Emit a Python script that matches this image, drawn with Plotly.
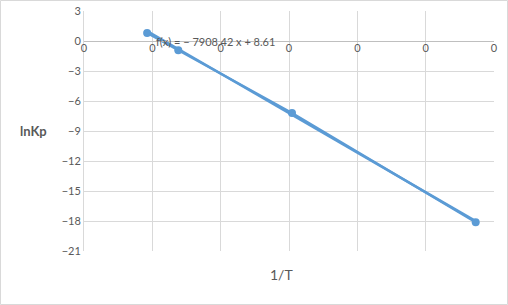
import plotly.graph_objects as go

# Data
inv_T = [0.000962, 0.00119, 0.002022, 0.003366]
ln_Kp = [0.8, -0.93, -7.2, -18.13]
slope = -7908.42
intercept = 8.61
x_ticks = [0.0005, 0.001, 0.0015, 0.002, 0.0025, 0.003, 0.0035]
y_ticks = [3, 0, -3, -6, -9, -12, -15, -18, -21]
eq_text = "f(x) = − 7908.42 x + 8.61"

W, H = 508, 305
L, R, T, B = 84, 14, 11, 54
blue = "#5b9bd5"
grey_txt = "#595959"
grid = "#d9d9d9"
font = "Lato"

trend_x = [min(inv_T), max(inv_T)]
trend_y = [slope * v + intercept for v in trend_x]

fig = go.Figure()
fig.add_trace(go.Scatter(x=trend_x, y=trend_y, mode="lines",
                         line=dict(color=blue, width=2.5), showlegend=False, hoverinfo="skip"))
fig.add_trace(go.Scatter(x=inv_T, y=ln_Kp, mode="lines+markers",
                         line=dict(color=blue, width=2.5),
                         marker=dict(color=blue, size=8, symbol="circle"),
                         showlegend=False))

ymin, ymax = -21, 3
zero_pos = (0 - ymin) / (ymax - ymin)

fig.update_xaxes(range=[0.0005, 0.0035], tickvals=x_ticks, tickformat=".0f",
                 showgrid=True, gridcolor=grid, gridwidth=1, automargin=False,
                 zeroline=False, showline=True, linecolor="#bfbfbf", linewidth=1,
                 anchor="free", position=zero_pos, ticks="", ticklabelstandoff=-3,
                 tickfont=dict(family=font, size=11, color=grey_txt))
fig.update_yaxes(range=[ymin, ymax], tickvals=y_ticks, automargin=False,
                 showgrid=True, gridcolor=grid, gridwidth=1,
                 zeroline=False, showline=True, linecolor=grid, linewidth=1,
                 ticks="", tickfont=dict(family=font, size=11, color=grey_txt))

pw, ph = W - L - R, H - T - B
def px_x(p):
    return (p - L) / pw
def px_y(p):
    return 1 - (p - T) / ph

fig.add_annotation(x=px_x(215), y=px_y(41), xref="paper", yref="paper", text=eq_text,
                   showarrow=False, font=dict(family=font, size=11, color=grey_txt),
                   xanchor="center", yanchor="middle")
fig.add_annotation(x=px_x(33), y=px_y(131), xref="paper", yref="paper", text="<b>lnKp</b>",
                   showarrow=False, font=dict(family=font, size=13, color=grey_txt),
                   xanchor="center", yanchor="middle")
fig.add_annotation(x=px_x(281), y=px_y(274), xref="paper", yref="paper", text="1/T",
                   showarrow=False, font=dict(family=font, size=14, color=grey_txt),
                   xanchor="center", yanchor="middle")

fig.add_shape(type="rect", xref="paper", yref="paper",
              x0=px_x(0.5), x1=px_x(W - 0.5), y0=px_y(0.5), y1=px_y(H - 0.5),
              line=dict(color="#d9d9d9", width=1), fillcolor="rgba(0,0,0,0)", layer="below")

fig.update_layout(width=W, height=H, margin=dict(l=L, r=R, t=T, b=B),
                  plot_bgcolor="white", paper_bgcolor="white",
                  font=dict(family=font, color=grey_txt))

fig.write_html("out.html")
